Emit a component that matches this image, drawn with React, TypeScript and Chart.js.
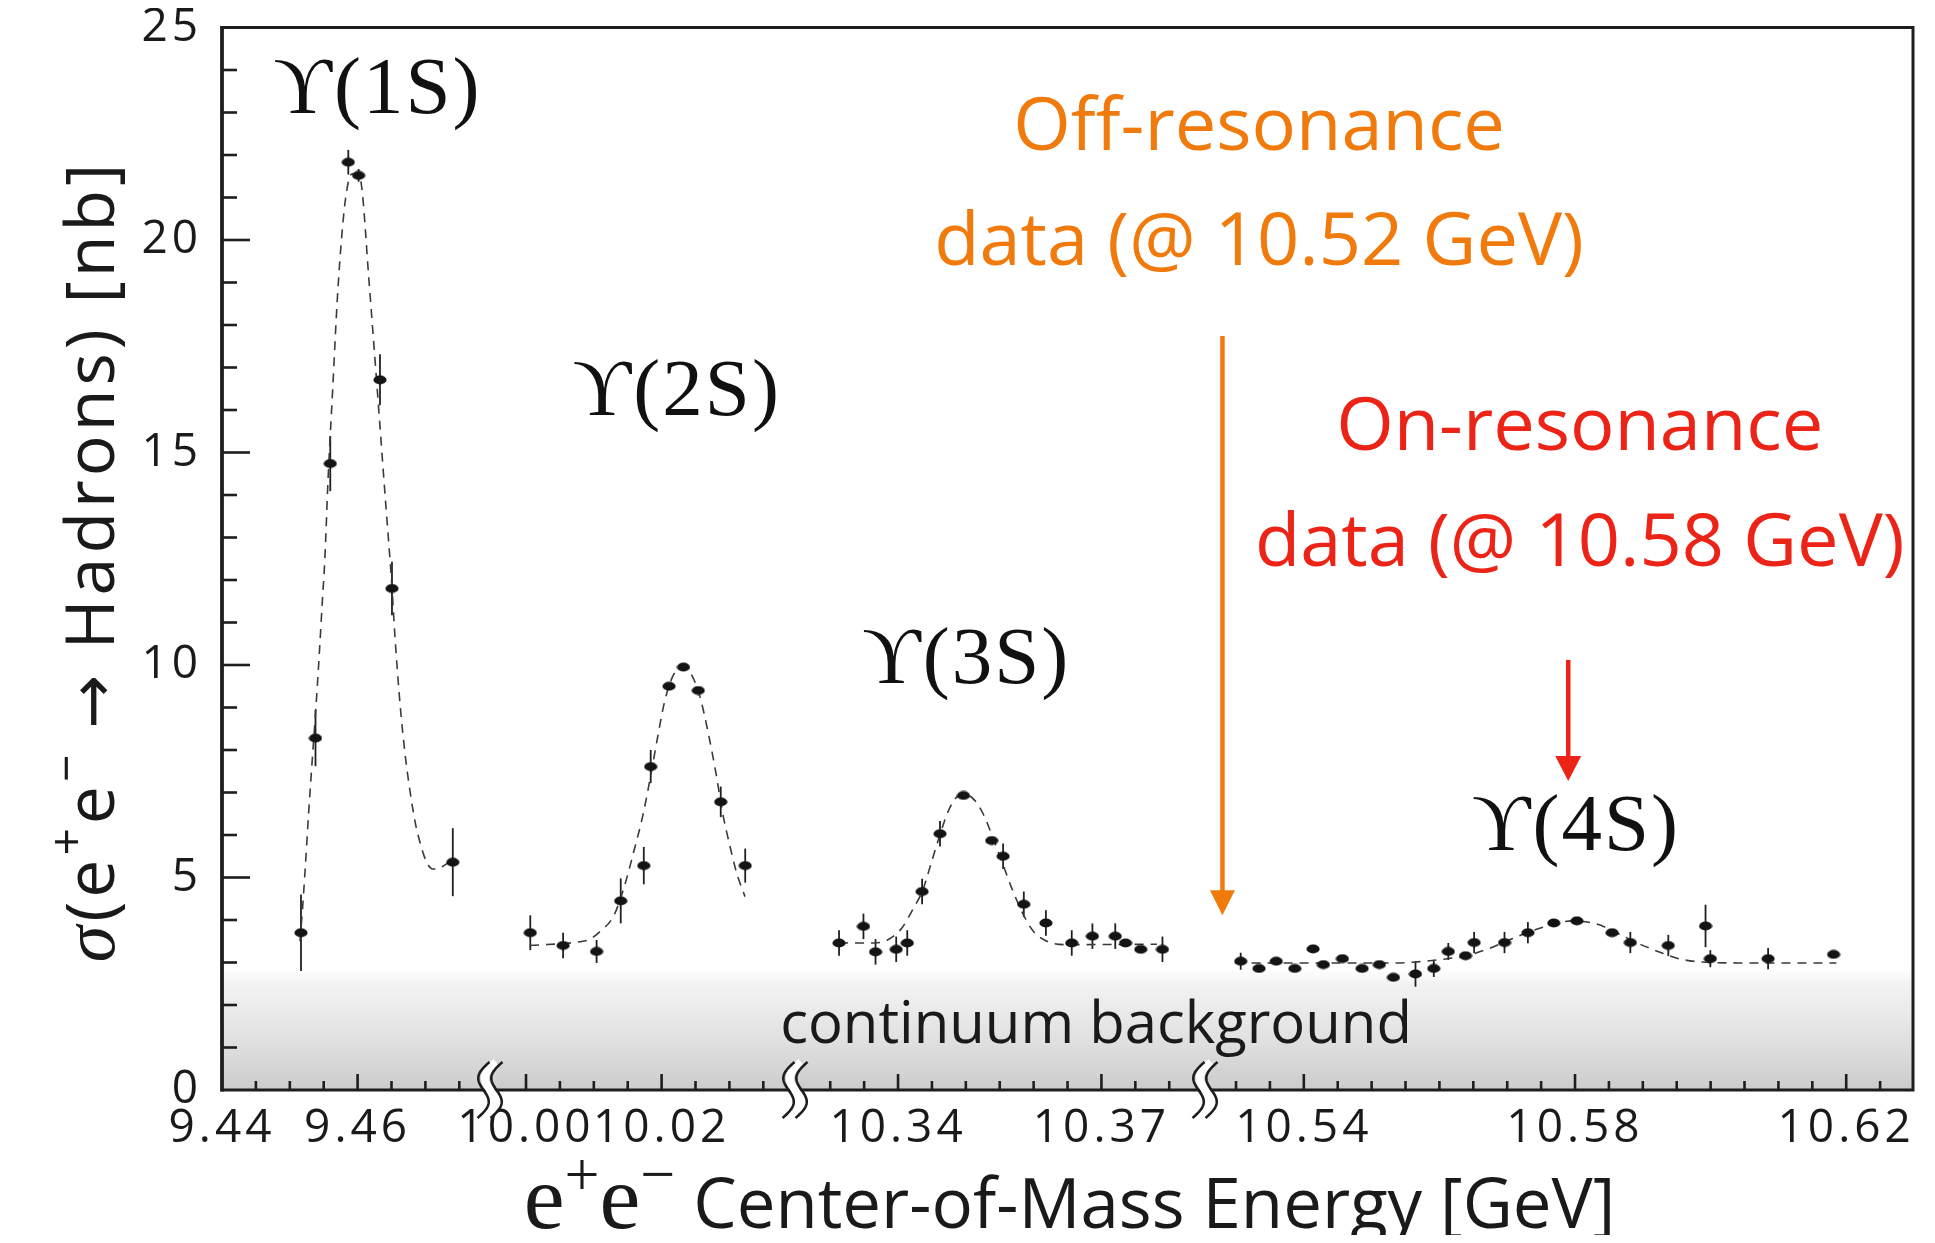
import React, { useEffect, useRef } from 'react';
import { Chart, registerables } from 'chart.js';

Chart.register(...registerables);

// ---------- broken energy axis (four segments, GeV) ----------
const SEGMENT_MIN = [9.44, 9.99469, 10.32481, 10.52543];
const SEGMENT_MAX = [9.47953, 10.03968, 10.38528, 10.62985];
const X_TICK_STEP = 0.005;
const X_LABELED_TICKS = [9.44, 9.46, 10.0, 10.02, 10.34, 10.37, 10.54, 10.58, 10.62];
const Y_MIN = 0;
const Y_MAX = 25;
const Y_LABEL_STEP = 5;
const Y_MINOR_STEP = 1;
const CONTINUUM_LEVEL = 2.85;

// ---------- Υ(1S) ----------
const S1_ENERGY = [9.45165, 9.45379, 9.45597, 9.45863, 9.46015, 9.4633, 9.46507, 9.47404];
const S1_SIGMA = [3.7, 8.28, 14.74, 21.83, 21.52, 16.71, 11.8, 5.36];
const S1_ERROR = [0.9, 0.66, 0.65, 0.29, 0.15, 0.6, 0.63, 0.8];
const S1_FIT_ENERGY = [9.4515, 9.45186, 9.45227, 9.45277, 9.45329, 9.45379, 9.45431, 9.45481, 9.45516, 9.45568, 9.45634, 9.45699, 9.45771, 9.45838, 9.45913, 9.4599, 9.46056, 9.46168, 9.4628, 9.46397, 9.46507, 9.46549, 9.46625, 9.46702, 9.46777, 9.46854, 9.46931, 9.47007, 9.47109, 9.47211, 9.47313, 9.47413];
const S1_FIT_SIGMA = [3.5, 4.23, 5.2, 6.5, 7.72, 8.85, 10.15, 11.53, 12.47, 14.5, 16.53, 18.56, 20.18, 21.15, 21.55, 21.55, 21.3, 19.04, 16.69, 14.17, 11.82, 10.72, 9.1, 7.88, 6.99, 6.26, 5.77, 5.4, 5.2, 5.22, 5.32, 5.43];

// ---------- Υ(2S) ----------
const S2_ENERGY = [10.00063, 10.00547, 10.01041, 10.01397, 10.01737, 10.01839, 10.02109, 10.02322, 10.02541, 10.02872, 10.03233];
const S2_SIGMA = [3.7, 3.4, 3.26, 4.45, 5.28, 7.61, 9.5, 9.95, 9.4, 6.78, 5.28];
const S2_ERROR = [0.41, 0.3, 0.27, 0.53, 0.44, 0.39, 0, 0, 0, 0.36, 0.4];
const S2_FIT_ENERGY = [10.00059, 10.00796, 10.00944, 10.01091, 10.01288, 10.01435, 10.01583, 10.0173, 10.01854, 10.01951, 10.0205, 10.02173, 10.02311, 10.02444, 10.02566, 10.02689, 10.02802, 10.02901, 10.03009, 10.03108, 10.0323];
const S2_FIT_SIGMA = [3.4, 3.49, 3.55, 3.73, 4.08, 4.71, 5.57, 6.51, 7.53, 8.39, 9.18, 9.76, 9.96, 9.76, 9.25, 8.39, 7.45, 6.51, 5.73, 5.1, 4.55];

// ---------- Υ(3S) ----------
const S3_ENERGY = [10.3313, 10.3349, 10.33668, 10.33973, 10.34136, 10.34355, 10.34619, 10.34965, 10.35382, 10.3555, 10.35855, 10.36181, 10.36562, 10.36867, 10.37204, 10.37355, 10.3758, 10.379];
const S3_SIGMA = [3.46, 3.85, 3.25, 3.31, 3.46, 4.67, 6.03, 6.93, 5.87, 5.5, 4.37, 3.93, 3.46, 3.62, 3.62, 3.46, 3.31, 3.31];
const S3_ERROR = [0.3, 0.3, 0.3, 0.3, 0.3, 0.3, 0.3, 0, 0, 0.3, 0.3, 0.3, 0.3, 0.3, 0.3, 0, 0, 0.3];
const S3_FIT_ENERGY = [10.3313, 10.33653, 10.33857, 10.3406, 10.34212, 10.34366, 10.34493, 10.34619, 10.34746, 10.34873, 10.35001, 10.35128, 10.35255, 10.35382, 10.35535, 10.35687, 10.35841, 10.35993, 10.36196, 10.3645, 10.3782];
const S3_FIT_SIGMA = [3.46, 3.46, 3.54, 3.82, 4.23, 4.71, 5.36, 6.01, 6.58, 6.9, 6.95, 6.82, 6.5, 6.01, 5.36, 4.71, 4.15, 3.74, 3.5, 3.42, 3.43];

// ---------- Υ(4S) ----------
const S4_ENERGY = [10.53069, 10.53339, 10.53593, 10.53867, 10.54137, 10.54289, 10.54569, 10.5486, 10.55114, 10.55322, 10.55647, 10.55917, 10.56131, 10.56385, 10.56512, 10.5696, 10.57305, 10.57687, 10.58028, 10.58547, 10.58816, 10.59376, 10.59925, 10.59996, 10.60848, 10.61814];
const S4_SIGMA = [3.03, 2.86, 3.03, 2.86, 3.32, 2.95, 3.09, 2.86, 2.95, 2.65, 2.73, 2.86, 3.26, 3.16, 3.47, 3.47, 3.7, 3.93, 3.98, 3.7, 3.47, 3.4, 3.86, 3.09, 3.09, 3.19];
const S4_ERROR = [0.2, 0, 0, 0, 0, 0, 0, 0, 0, 0, 0.3, 0.2, 0.2, 0, 0.25, 0.25, 0.25, 0, 0, 0, 0.25, 0.25, 0.5, 0.2, 0.25, 0];
const S4_FIT_ENERGY = [10.52993, 10.55419, 10.55637, 10.56121, 10.56426, 10.56732, 10.56985, 10.57291, 10.57596, 10.57951, 10.58308, 10.58614, 10.58917, 10.59223, 10.59528, 10.59885, 10.60392, 10.61855];
const S4_FIT_SIGMA = [2.99, 2.99, 3.01, 3.09, 3.17, 3.33, 3.5, 3.7, 3.86, 3.98, 3.91, 3.7, 3.46, 3.26, 3.09, 3.01, 2.99, 2.99];

// ---------- annotations ----------
const PEAK_LABELS = ['\u03D2(1S)', '\u03D2(2S)', '\u03D2(3S)', '\u03D2(4S)'];
const PEAK_LABEL_SEGMENT = [0, 1, 2, 3];
const PEAK_LABEL_ENERGY = [9.4628, 10.0221, 10.3499, 10.58];
const PEAK_LABEL_SIGMA = [23.0, 15.88, 9.58, 5.65];

const OFF_RES_LINES = ['Off-resonance', 'data (@ 10.52 GeV)'];
const OFF_RES_TEXT_ENERGY = 10.5334;
const OFF_RES_TEXT_SIGMA = [22.12, 19.41];
const OFF_RES_ARROW_ENERGY = 10.528;
const OFF_RES_ARROW_SIGMA = [17.74, 4.11];

const ON_RES_LINES = ['On-resonance', 'data (@ 10.58 GeV)'];
const ON_RES_TEXT_ENERGY = 10.5807;
const ON_RES_TEXT_SIGMA = [15.06, 12.33];
const ON_RES_ARROW_ENERGY = 10.579;
const ON_RES_ARROW_SIGMA = [10.12, 7.27];

const CONTINUUM_TEXT = 'continuum background';
const CONTINUUM_TEXT_ENERGY = 10.3692;
const CONTINUUM_TEXT_SIGMA = 1.11;

const ORANGE = '#F07A0C';
const RED = '#EB2417';
const INK = '#1a1a1a';
const SANS = '"Open Sans", "Noto Sans", sans-serif';
const SERIF = '"Liberation Serif", "DejaVu Serif", serif';

type Piece = { text: string; font: string; rise?: number };

function drawPieces(ctx: CanvasRenderingContext2D, pieces: Piece[], cx: number, baseline: number) {
  const widths = pieces.map((p) => {
    ctx.font = p.font;
    return ctx.measureText(p.text).width;
  });
  const total = widths.reduce((a, b) => a + b, 0);
  let x = cx - total / 2;
  ctx.textAlign = 'left';
  ctx.textBaseline = 'alphabetic';
  pieces.forEach((p, i) => {
    ctx.font = p.font;
    ctx.fillText(p.text, x, baseline - (p.rise || 0));
    x += widths[i];
  });
}

function isLabeled(v: number) {
  return X_LABELED_TICKS.some((t) => Math.abs(t - v) < 1e-6);
}

export default function App() {
  const canvasRef = useRef<HTMLCanvasElement>(null);

  useEffect(() => {
    const canvas = canvasRef.current;
    if (!canvas) return;

    const marker = document.createElement('canvas');
    marker.width = 14;
    marker.height = 10;
    const mctx = marker.getContext('2d')!;
    mctx.fillStyle = '#141414';
    mctx.beginPath();
    mctx.ellipse(7, 5, 6.6, 4.4, 0, 0, Math.PI * 2);
    mctx.fill();

    const segments = [
      { e: S1_ENERGY, s: S1_SIGMA, err: S1_ERROR, fe: S1_FIT_ENERGY, fs: S1_FIT_SIGMA },
      { e: S2_ENERGY, s: S2_SIGMA, err: S2_ERROR, fe: S2_FIT_ENERGY, fs: S2_FIT_SIGMA },
      { e: S3_ENERGY, s: S3_SIGMA, err: S3_ERROR, fe: S3_FIT_ENERGY, fs: S3_FIT_SIGMA },
      { e: S4_ENERGY, s: S4_SIGMA, err: S4_ERROR, fe: S4_FIT_ENERGY, fs: S4_FIT_SIGMA },
    ];

    const datasets: any[] = [];
    segments.forEach((seg, i) => {
      datasets.push({
        label: 'fit ' + (i + 1),
        xAxisID: 'x' + (i + 1),
        yAxisID: 'y',
        data: seg.fe.map((x, j) => ({ x, y: seg.fs[j] })),
        showLine: true,
        borderColor: '#3a3a3a',
        borderWidth: 1.6,
        borderDash: [9, 7],
        pointRadius: 0,
        pointHoverRadius: 0,
        cubicInterpolationMode: 'monotone',
        fill: false,
        order: 1,
      });
      datasets.push({
        label: 'data ' + (i + 1),
        xAxisID: 'x' + (i + 1),
        yAxisID: 'y',
        data: seg.e.map((x, j) => ({ x, y: seg.s[j] })),
        errors: seg.err,
        showLine: false,
        pointStyle: marker,
        pointRadius: 5,
        pointHoverRadius: 5,
        order: 0,
      });
    });

    const tickFont = { family: SANS, size: 46, weight: '500' };
    const xScales: any = {};
    SEGMENT_MIN.forEach((mn, i) => {
      const mx = SEGMENT_MAX[i];
      xScales['x' + (i + 1)] = {
        type: 'linear',
        position: 'bottom',
        stack: 'energy',
        stackWeight: mx - mn,
        min: mn,
        max: mx,
        grid: { display: false, drawTicks: false },
        border: { display: false },
        ticks: {
          stepSize: X_TICK_STEP,
          autoSkip: false,
          maxRotation: 0,
          minRotation: 0,
          padding: 11,
          font: tickFont,
          color: INK,
          callback: (v: any) => (isLabeled(Number(v)) ? Number(v).toFixed(2) : ''),
        },
        afterFit: (s: any) => {
          s.height = 145;
          s.paddingLeft = 0;
          s.paddingRight = 0;
        },
      };
    });

    const decor = {
      id: 'decor',
      beforeDraw(chart: any) {
        (chart.ctx as any).letterSpacing = '4px';
      },
      beforeDatasetsDraw(chart: any) {
        const ctx = chart.ctx as CanvasRenderingContext2D;
        const { left, right, bottom } = chart.chartArea;
        const ys = chart.scales.y;
        ctx.save();
        const topPx = ys.getPixelForValue(CONTINUUM_LEVEL);
        const g = ctx.createLinearGradient(0, topPx, 0, bottom);
        g.addColorStop(0, 'rgba(255,255,255,1)');
        g.addColorStop(0.12, '#f3f3f3');
        g.addColorStop(0.55, '#e2e2e2');
        g.addColorStop(1, '#cccccc');
        ctx.fillStyle = g;
        ctx.fillRect(left, topPx, right - left, bottom - topPx);

        ctx.strokeStyle = '#202020';
        ctx.lineWidth = 1.8;
        chart.data.datasets.forEach((ds: any) => {
          if (!ds.errors) return;
          const xs = chart.scales[ds.xAxisID];
          ds.data.forEach((p: any, j: number) => {
            const e = ds.errors[j];
            if (!e) return;
            const px = xs.getPixelForValue(p.x);
            ctx.beginPath();
            ctx.moveTo(px, ys.getPixelForValue(p.y - e));
            ctx.lineTo(px, ys.getPixelForValue(p.y + e));
            ctx.stroke();
          });
        });
        ctx.restore();
      },
      afterDraw(chart: any) {
        const ctx = chart.ctx as CanvasRenderingContext2D;
        (ctx as any).letterSpacing = '0px';
        const { left, right, top, bottom } = chart.chartArea;
        const ys = chart.scales.y;
        const xs = [chart.scales.x1, chart.scales.x2, chart.scales.x3, chart.scales.x4];
        ctx.save();

        // frame
        ctx.strokeStyle = '#1e1e1e';
        ctx.lineWidth = 3;
        ctx.strokeRect(left, top, right - left, bottom - top);
        ctx.lineWidth = 3.6;
        ctx.beginPath();
        ctx.moveTo(left, top - 1.5);
        ctx.lineTo(left, bottom + 1.5);
        ctx.stroke();

        // y ticks (inward)
        ctx.lineWidth = 2.6;
        for (let v = Y_MIN + Y_MINOR_STEP; v < Y_MAX; v += Y_MINOR_STEP) {
          const py = ys.getPixelForValue(v);
          const len = v % Y_LABEL_STEP === 0 ? 28 : 15;
          ctx.beginPath();
          ctx.moveTo(left, py);
          ctx.lineTo(left + len, py);
          ctx.stroke();
        }

        // x ticks (inward)
        xs.forEach((sc: any, i: number) => {
          const k0 = Math.ceil(SEGMENT_MIN[i] / X_TICK_STEP - 1e-6);
          const k1 = Math.floor(SEGMENT_MAX[i] / X_TICK_STEP + 1e-6);
          for (let k = k0; k <= k1; k++) {
            const v = k * X_TICK_STEP;
            const px = sc.getPixelForValue(v);
            if (i > 0 && px - sc.left < 12) continue;
            if (i < xs.length - 1 && sc.right - px < 12) continue;
            if (px <= left + 1 || px >= right - 1) continue;
            const len = isLabeled(v) ? 16 : 9;
            ctx.beginPath();
            ctx.moveTo(px, bottom);
            ctx.lineTo(px, bottom - len);
            ctx.stroke();
          }
        });

        // axis break marks
        for (let i = 0; i < xs.length - 1; i++) {
          const bx = xs[i].right;
          const curve = (dx: number) => {
            ctx.beginPath();
            for (let t = -1; t <= 1.0001; t += 0.05) {
              const x = bx + dx + 8 * Math.sin(Math.PI * t) - 6 * t;
              const y = bottom + 28 * t;
              if (t === -1) ctx.moveTo(x, y);
              else ctx.lineTo(x, y);
            }
          };
          ctx.strokeStyle = '#ffffff';
          ctx.lineWidth = 8;
          curve(0);
          ctx.stroke();
          ctx.strokeStyle = '#1e1e1e';
          ctx.lineWidth = 2.6;
          curve(-6.5);
          ctx.stroke();
          curve(6.5);
          ctx.stroke();
        }

        // peak labels
        ctx.fillStyle = '#111111';
        ctx.textAlign = 'center';
        ctx.textBaseline = 'alphabetic';
        ctx.font = '81px ' + SERIF;
        (ctx as any).letterSpacing = '2px';
        PEAK_LABELS.forEach((t, i) => {
          const sc = xs[PEAK_LABEL_SEGMENT[i]];
          ctx.fillText(t, sc.getPixelForValue(PEAK_LABEL_ENERGY[i]) + 1, ys.getPixelForValue(PEAK_LABEL_SIGMA[i]));
        });
        (ctx as any).letterSpacing = '0px';

        // off / on resonance texts
        ctx.font = '74px ' + SANS;
        ctx.fillStyle = ORANGE;
        OFF_RES_LINES.forEach((t, i) => {
          ctx.fillText(t, xs[3].getPixelForValue(OFF_RES_TEXT_ENERGY), ys.getPixelForValue(OFF_RES_TEXT_SIGMA[i]));
        });
        ctx.fillStyle = RED;
        ON_RES_LINES.forEach((t, i) => {
          ctx.fillText(t, xs[3].getPixelForValue(ON_RES_TEXT_ENERGY), ys.getPixelForValue(ON_RES_TEXT_SIGMA[i]));
        });

        const arrow = (x: number, y0: number, y1: number, color: string, head: number, hw: number) => {
          ctx.strokeStyle = color;
          ctx.fillStyle = color;
          ctx.lineWidth = 4.5;
          ctx.beginPath();
          ctx.moveTo(x, y0);
          ctx.lineTo(x, y1 - head + 1);
          ctx.stroke();
          ctx.beginPath();
          ctx.moveTo(x - hw, y1 - head);
          ctx.lineTo(x + hw, y1 - head);
          ctx.lineTo(x, y1);
          ctx.closePath();
          ctx.fill();
        };
        arrow(xs[3].getPixelForValue(OFF_RES_ARROW_ENERGY), ys.getPixelForValue(OFF_RES_ARROW_SIGMA[0]), ys.getPixelForValue(OFF_RES_ARROW_SIGMA[1]), ORANGE, 25, 12.5);
        arrow(xs[3].getPixelForValue(ON_RES_ARROW_ENERGY), ys.getPixelForValue(ON_RES_ARROW_SIGMA[0]), ys.getPixelForValue(ON_RES_ARROW_SIGMA[1]), RED, 25, 13);

        // continuum text
        ctx.fillStyle = INK;
        ctx.textAlign = 'center';
        ctx.font = '58px ' + SANS;
        ctx.fillText(CONTINUUM_TEXT, xs[2].getPixelForValue(CONTINUUM_TEXT_ENERGY), ys.getPixelForValue(CONTINUUM_TEXT_SIGMA));

        // x title
        ctx.fillStyle = INK;
        drawPieces(
          ctx,
          [
            { text: 'e', font: '92px ' + SERIF },
            { text: '+', font: '62px ' + SERIF, rise: 33 },
            { text: 'e', font: '92px ' + SERIF },
            { text: '\u2212', font: '62px ' + SERIF, rise: 33 },
            { text: ' Center-of-Mass Energy [GeV]', font: '69px ' + SANS },
          ],
          (left + right) / 2 + 2,
          1220
        );

        // y title (rotated)
        ctx.save();
        ctx.translate(106, 553);
        ctx.rotate(-Math.PI / 2);
        (ctx as any).letterSpacing = '4px';
        drawPieces(
          ctx,
          [
            { text: '\u03C3', font: 'italic 74px ' + SERIF },
            { text: '(e', font: '68px ' + SANS },
            { text: '+', font: '48px ' + SANS, rise: 31 },
            { text: 'e', font: '68px ' + SANS },
            { text: '\u2212', font: '48px ' + SANS, rise: 31 },
            { text: ' ', font: '68px ' + SANS },
            { text: '\u2192', font: '64px "DejaVu Sans", sans-serif' },
            { text: ' Hadrons) [nb]', font: '68px ' + SANS },
          ],
          0,
          0
        );
        ctx.restore();

        ctx.restore();
      },
    };

    const chart = new Chart(canvas, {
      type: 'scatter',
      data: { datasets },
      options: {
        animation: false,
        responsive: true,
        maintainAspectRatio: false,
        events: [],
        layout: { padding: { top: 19.5, right: 14, bottom: 0, left: 0 } },
        plugins: { legend: { display: false }, tooltip: { enabled: false }, title: { display: false } },
        scales: {
          ...xScales,
          y: {
            type: 'linear',
            position: 'left',
            min: Y_MIN,
            max: Y_MAX,
            grid: { display: false, drawTicks: false },
            border: { display: false },
            ticks: {
              stepSize: Y_LABEL_STEP,
              padding: 20,
              font: tickFont,
              color: INK,
              callback: (v: any) => String(v),
            },
            afterFit: (s: any) => {
              s.width = 214;
              s.paddingTop = 0;
              s.paddingBottom = 0;
            },
          },
        },
      } as any,
      plugins: [decor],
    });

    return () => chart.destroy();
  }, []);

  return (
    <div style={{ width: 1919, height: 1227, position: 'relative', background: '#ffffff' }}>
      <canvas ref={canvasRef} />
    </div>
  );
}
